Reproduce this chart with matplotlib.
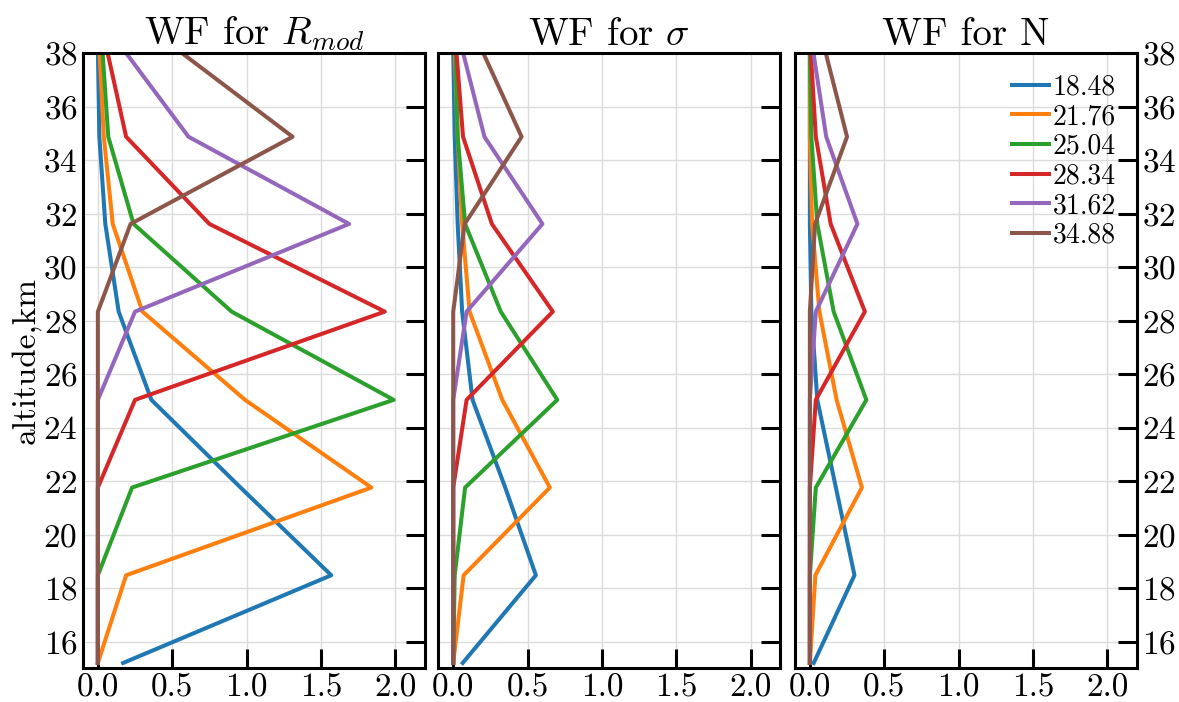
import matplotlib
matplotlib.use("Agg")
import matplotlib.pyplot as plt

plt.rcParams['font.family'] = ['cmr10', 'DejaVu Serif']
plt.rcParams['mathtext.fontset'] = 'cm'
plt.rcParams['axes.formatter.use_mathtext'] = True

altitudes = [15.2, 18.48, 21.76, 25.04, 28.34, 31.62, 34.88, 38.16]
labels = ["18.48", "21.76", "25.04", "28.34", "31.62", "34.88"]
colors = ["#1f77b4", "#ff7f0e", "#2ca02c", "#d62728", "#9467bd", "#8c564b"]
titles = ["WF for $R_{mod}$", "WF for $\\sigma$", "WF for N"]

wf_rmod = [
    [0.17, 1.57, 0.96, 0.36, 0.14, 0.05, 0.01, 0.00],
    [0.00, 0.19, 1.84, 0.99, 0.30, 0.10, 0.04, 0.01],
    [0.00, 0.00, 0.23, 1.99, 0.90, 0.24, 0.07, 0.03],
    [0.00, 0.00, 0.00, 0.25, 1.93, 0.75, 0.19, 0.06],
    [0.00, 0.00, 0.00, 0.00, 0.25, 1.69, 0.61, 0.17],
    [0.00, 0.00, 0.00, 0.00, 0.00, 0.22, 1.31, 0.53],
]
wf_sigma = [
    [0.064, 0.556, 0.35, 0.13, 0.06, 0.03, 0.01, 0.00],
    [0.00, 0.07, 0.65, 0.33, 0.11, 0.06, 0.03, 0.01],
    [0.00, 0.01, 0.08, 0.70, 0.32, 0.08, 0.03, 0.015],
    [0.00, 0.00, 0.00, 0.09, 0.67, 0.26, 0.066, 0.02],
    [0.00, 0.00, 0.00, 0.00, 0.09, 0.60, 0.21, 0.06],
    [0.00, 0.00, 0.00, 0.00, 0.00, 0.077, 0.46, 0.19],
]
wf_n = [
    [0.026, 0.30, 0.175, 0.05, 0.01, 0.00, 0.00, 0.00],
    [0.00, 0.037, 0.35, 0.18, 0.064, 0.015, 0.00, 0.00],
    [0.00, 0.00, 0.04, 0.38, 0.16, 0.05, 0.01, 0.00],
    [0.00, 0.00, 0.00, 0.04, 0.37, 0.14, 0.04, 0.005],
    [0.00, 0.00, 0.00, 0.00, 0.04, 0.32, 0.11, 0.02],
    [0.00, 0.00, 0.00, 0.00, 0.00, 0.035, 0.25, 0.10],
]
panels = [wf_rmod, wf_sigma, wf_n]

fig = plt.figure(figsize=(11.79, 7.02), dpi=100)
lefts = [0.0704, 0.3718, 0.6743]
w, b, h = 0.2900, 0.048, 0.876
axes = []
for i, (data, title) in enumerate(zip(panels, titles)):
    ax = fig.add_axes([lefts[i], b, w, h])
    axes.append(ax)
    for vals, lab, c in zip(data, labels, colors):
        ax.plot(vals, altitudes, color=c, lw=2.9, label=lab)
    ax.set_xlim(-0.1, 2.2)
    ax.set_ylim(15, 38)
    ax.set_xticks([0.0, 0.5, 1.0, 1.5, 2.0])
    ax.set_xticklabels(["0.0", "0.5", "1.0", "1.5", "2.0"])
    ax.set_yticks(range(16, 39, 2))
    ax.grid(True, color="#dcdcdc", lw=1.0)
    ax.set_axisbelow(True)
    for s in ax.spines.values():
        s.set_linewidth(2.2)
    ax.tick_params(axis='both', direction='in', length=14, width=2.2,
                   labelsize=24, pad=4)
    ax.tick_params(axis='x', top=False, bottom=True)
    ax.tick_params(axis='y', left=False, right=True,
                   labelleft=(i == 0), labelright=(i == 2))
    ax.set_title(title, fontsize=28, pad=6)

axes[0].set_ylabel("altitude,km", fontsize=24, labelpad=2)
axes[2].legend(loc='upper right', frameon=False, fontsize=20,
               handlelength=1.35, handletextpad=0.12, labelspacing=0.12,
               borderaxespad=0.35)

fig.savefig("out.png", dpi=100)
